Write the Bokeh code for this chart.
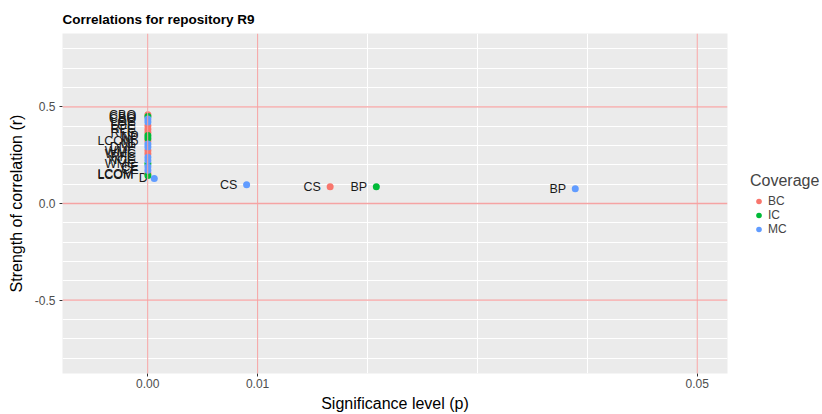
import numpy as np
from bokeh.plotting import figure
from bokeh.models import (ColumnDataSource, Span, FixedTicker, PrintfTickFormatter,
                          Legend, LegendItem, Range1d)
from bokeh.embed import file_html
from bokeh.resources import INLINE
from bokeh.core.properties import value

# ---- data ----
coverage = ["BC", "IC", "MC", "MC", "BC", "BC", "BC", "IC", "IC", "BC",
            "MC", "MC", "BC", "BC", "MC", "MC", "IC", "MC", "MC", "BC", "IC",
            "MC", "MC", "BC", "IC", "MC"]
metric = ["CBO", "CBO", "CBO", "LOC", "LOC", "RFC", "RFC", "NP", "NP", "LCOM",
          "NP", "DNP", "WMC", "WMC", "RFC", "NOC", "WMC", "CE", "CE", "LCOM", "LCOM",
          "D", "CS", "CS", "BP", "BP"]
p_value = [0.00002, 0.00002, 0.00002, 0.00002, 0.00002, 0.00002, 0.00002, 0.00002, 0.00002, 0.00002,
           0.00002, 0.00002, 0.00002, 0.00002, 0.00002, 0.00002, 0.00002, 0.00002, 0.00002, 0.00002, 0.00002,
           0.0006, 0.0090, 0.0166, 0.0208, 0.0389]
r_value = [0.460, 0.450, 0.437, 0.422, 0.402, 0.384, 0.367, 0.352, 0.338, 0.325,
           0.308, 0.292, 0.274, 0.257, 0.240, 0.223, 0.206, 0.190, 0.172, 0.155, 0.145,
           0.130, 0.097, 0.087, 0.087, 0.077]

groups = ["BC", "IC", "MC"]
group_colors = ["#F8766D", "#00BA38", "#619CFF"]
x_breaks = [0, 0.01, 0.05]
y_breaks = [-0.5, 0.0, 0.5]
ref_x = [0, 0.01, 0.05]
ref_y = [-0.5, 0.0, 0.5]
grid_x = [0, 0.01, 0.02, 0.03, 0.04, 0.05]
grid_y = [round(v, 1) for v in np.arange(-0.8, 0.81, 0.1)]

FONT = "Liberation Sans"

p = figure(frame_width=665, frame_height=340, output_backend="svg", toolbar_location=None,
           x_range=Range1d(-0.00775, 0.05275), y_range=Range1d(-0.88, 0.88),
           min_border_left=62, min_border_right=95, min_border_top=33, min_border_bottom=41,
           title="Correlations for repository R9")

p.background_fill_color = "#EBEBEB"
p.border_fill_color = "white"
p.outline_line_color = None

p.title.text_font = FONT
p.title.text_font_size = "13.5px"
p.title.text_font_style = "bold"
p.title.text_color = "black"
p.title.align = "left"
p.title.standoff = 14

# grids
p.xgrid.ticker = FixedTicker(ticks=grid_x)
p.ygrid.ticker = FixedTicker(ticks=grid_y)
for g in (p.xgrid, p.ygrid):
    g.grid_line_color = "white"
    g.grid_line_width = 1

# axes
p.xaxis.ticker = FixedTicker(ticks=x_breaks)
p.xaxis.formatter = PrintfTickFormatter(format="%.2f")
p.yaxis.ticker = FixedTicker(ticks=y_breaks)
p.yaxis.formatter = PrintfTickFormatter(format="%.1f")
p.xaxis.axis_label = "Significance level (p)"
p.yaxis.axis_label = "Strength of correlation (r)"
for ax in (p.xaxis, p.yaxis):
    ax.axis_line_color = None
    ax.major_tick_out = 3
    ax.major_tick_in = 0
    ax.minor_tick_out = 0
    ax.minor_tick_in = 0
    ax.major_tick_line_color = "#333333"
    ax.major_label_text_font = FONT
    ax.major_label_text_font_size = "12px"
    ax.major_label_text_color = "#4D4D4D"
    ax.axis_label_text_font = FONT
    ax.axis_label_text_font_size = "16px"
    ax.axis_label_text_font_style = "normal"
    ax.axis_label_text_color = "black"
p.xaxis.major_label_standoff = 2
p.xaxis.axis_label_standoff = 4
p.yaxis.major_label_standoff = 4
p.yaxis.axis_label_standoff = 7

# reference lines
for v in ref_x:
    p.add_layout(Span(location=v, dimension="height", line_color="#F5A3A3",
                      line_width=1))
for v in ref_y:
    p.add_layout(Span(location=v, dimension="width", line_color="#F5A3A3",
                      line_width=1.3))

# label offset grows a little with label length (like hjust > 1)
label_off = [-(4 + 2.6 * len(m)) for m in metric]
src = ColumnDataSource(dict(p=p_value, r=r_value, metric=metric, coverage=coverage,
                            off=label_off))

# labels
p.text(x="p", y="r", text="metric", source=src, text_align="right",
       text_baseline="middle", x_offset="off", text_font=value(FONT),
       text_font_size="12.5px", text_color="#1a1a1a")

# points
renderers = []
for g, c in zip(groups, group_colors):
    idx = [i for i, cv in enumerate(coverage) if cv == g]
    s = ColumnDataSource(dict(p=[p_value[i] for i in idx], r=[r_value[i] for i in idx]))
    rr = p.scatter(x="p", y="r", source=s, size=7, fill_color=c, line_color=None)
    renderers.append(rr)

legend = Legend(items=[LegendItem(label=g, renderers=[rr]) for g, rr in zip(groups, renderers)],
                title="Coverage", location=(19, 133))
legend.title_text_font = FONT
legend.title_text_font_size = "16px"
legend.title_text_font_style = "normal"
legend.title_standoff = 4
legend.label_text_font = FONT
legend.label_text_font_size = "12px"
legend.label_height = 13
legend.glyph_height = 14
legend.glyph_width = 17
legend.label_standoff = 1
legend.spacing = 0
legend.padding = 4
legend.margin = 0
legend.background_fill_alpha = 0
legend.border_line_alpha = 0
p.add_layout(legend, "right")

open("out.html", "w").write(file_html(p, INLINE))
